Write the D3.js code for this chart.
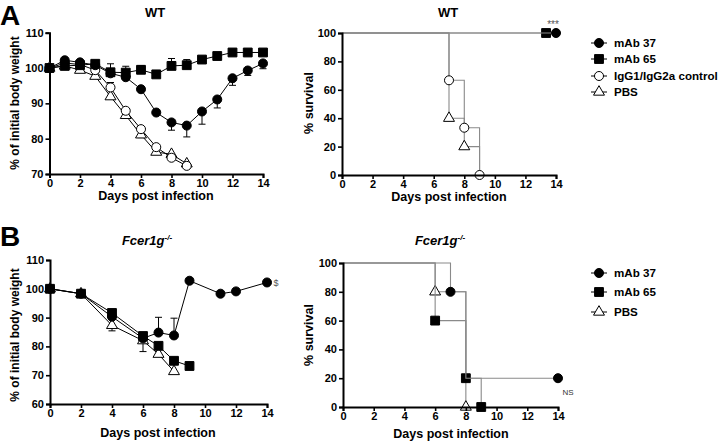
<!DOCTYPE html>
<html>
<head>
<meta charset="utf-8">
<script src="https://cdn.jsdelivr.net/npm/d3@7"></script>
<style>
  body { margin: 0; background: #fff; }
  svg { display: block; font-family: "Liberation Sans", Arial, sans-serif; }
</style>
</head>
<body>
<svg id="chart" width="720" height="442"></svg>
<script>
// ---------------- DATA ----------------
const daysWT = [0,1,2,3,4,5,6,7,8,9,10,11,12,13,14];
const wtMab37 = [100,102.2,101.6,100.8,98.5,97.4,94,87.4,84.6,83.7,87.7,91.1,97.1,99.3,101.3];
const wtMab37Err = [0,0,0,0,0,0,0,0,-2.2,-3.2,-3.6,-2.4,-2.0,-1.4,-1.5];
const wtMab65 = [100,100.6,100.8,101.2,98.8,98.7,99.5,98.2,100.6,100.8,102.4,103.4,104.4,104.4,104.4];
const wtMab65Err = [0,0,0,0,2.4,1.8,1.2,0,2.1,1.6,0,0,0,0,0];
const daysWT9 = [0,1,2,3,4,5,6,7,8,9];
const wtIgG = [100,101.4,101,99.4,94.5,87.9,82.7,77.6,74.6,72.3];
const wtIgGErr = [0,0,0,0,1.4,0,0,0,0,0];
const wtPBS = [100,100.6,99.4,97.7,91.9,86.6,81.1,76.2,75.6,72.9];
const wtPBSErr = [0,0,0,0,0,-0.8,-0.8,-0.6,0,0];

const daysKO37 = [0,2,4,6,7,8,9,11,12,14];
const koMab37 = [100,98.3,90.3,82.8,84.8,83.8,102.8,98.3,99.1,102.2];
const koMab37Err = [0,0,0,0,5.3,6.0,0,0,0,0];
const daysKO65 = [0,2,4,6,7,8,9];
const koMab65 = [100,98.3,91.6,83.6,80.2,75,73.2];
const daysKOPBS = [0,2,4,6,7,8];
const koPBS = [100,98.3,87.3,82,77.3,71.3];
const koPBSErr = [0,0,-1.9,-3.8,-0.8,0];

// Kaplan-Meier step points [day, % survival]
const survWT37 = [[0,100],[14,100]];
const survWT37Marks = [[14,100]];
const survWT65 = [[0,100],[13.35,100]];
const survWT65Marks = [[13.35,100]];
const survWTIgG = [[0,100],[7,66.7],[8,33.3],[9,0]];
const survWTIgGMarks = [[7,66.7],[8,33.3],[9,0]];
const survWTPBS = [[0,100],[7,40],[8,20],[9,0]];
const survWTPBSMarks = [[7,40],[8,20]];

const survKO37 = [[0,100],[7,80],[8,20],[14,20]];
const survKO37Marks = [[7,80],[14,20]];
const survKO65 = [[0,100],[6,60],[8,20],[9,0]];
const survKO65Marks = [[6,60],[8,20],[9,0]];
const survKOPBS = [[0,100],[6,80],[8,0]];
const survKOPBSMarks = [[6,80],[8,0]];

const xTicks = [0,2,4,6,8,10,12,14];
const wtWeightTicks = [70,80,90,100,110];
const koWeightTicks = [60,70,80,90,100,110];
const survTicks = [0,20,40,60,80,100];
const legendA = ["mAb 37","mAb 65","IgG1/IgG2a control","PBS"];
const legendB = ["mAb 37","mAb 65","PBS"];

// ---------------- DRAW ----------------
const svg = d3.select("#chart");
const FONT = "'Liberation Sans', Arial, sans-serif";

const styles = {
  mab37: {shape: d3.symbolCircle, size: 64, fill: "#000"},
  mab65: {shape: d3.symbolSquare, size: 78, fill: "#000"},
  igg:   {shape: d3.symbolCircle, size: 64, fill: "#fff"},
  pbs:   {shape: d3.symbolTriangle, size: 52, fill: "#fff"}
};

function axes(x, y, xt, yt, x0, y0) {
  const gx = svg.append("g").attr("transform", `translate(0,${y0})`)
    .call(d3.axisBottom(x).tickValues(xt).tickSize(4).tickPadding(1.5));
  const gy = svg.append("g").attr("transform", `translate(${x0},0)`)
    .call(d3.axisLeft(y).tickValues(yt).tickSize(4).tickPadding(2));
  [gx, gy].forEach(g => {
    g.select(".domain").attr("stroke", "#000").attr("stroke-width", 2);
    g.selectAll(".tick line").attr("stroke", "#000").attr("stroke-width", 1.6);
    g.selectAll(".tick text").attr("fill", "#000").style("font-family", FONT)
      .style("font-size", "11px").style("font-weight", "bold");
  });
}

function marker(g, st, px, py) {
  g.append("path").attr("d", d3.symbol().type(st.shape).size(st.size)())
    .attr("transform", `translate(${px},${py})`)
    .attr("fill", st.fill).attr("stroke", "#000").attr("stroke-width", 1);
}

function weightSeries(x, y, days, vals, errs, st) {
  const g = svg.append("g");
  const line = d3.line().x((d,i) => x(days[i])).y(d => y(d));
  g.append("path").datum(vals).attr("d", line).attr("fill", "none")
    .attr("stroke", "#000").attr("stroke-width", 1);
  if (errs) {
    errs.forEach((e, i) => {
      if (!e) return;
      const px = x(days[i]), y1 = y(vals[i]), y2 = y(vals[i] + e);
      g.append("line").attr("x1", px).attr("x2", px).attr("y1", y1).attr("y2", y2)
        .attr("stroke", "#000").attr("stroke-width", 1);
      g.append("line").attr("x1", px - 3.5).attr("x2", px + 3.5).attr("y1", y2).attr("y2", y2)
        .attr("stroke", "#000").attr("stroke-width", 1);
    });
  }
  return {g, draw: () => vals.forEach((v, i) => marker(g, st, x(days[i]), y(v)))};
}

function survSeries(x, y, pts, marks, st) {
  const g = svg.append("g");
  const line = d3.line().curve(d3.curveStepAfter).x(d => x(d[0])).y(d => y(d[1]));
  g.append("path").datum(pts).attr("d", line).attr("fill", "none")
    .attr("stroke", "#8a8a8a").attr("stroke-width", 1.1);
  return () => marks.forEach(m => marker(g, st, x(m[0]), y(m[1])));
}

function text(x, y, s, opts = {}) {
  const t = svg.append("text").attr("x", x).attr("y", y).text(s)
    .style("font-family", FONT)
    .style("font-size", (opts.size || 12) + "px")
    .style("font-weight", opts.weight || "bold")
    .attr("text-anchor", opts.anchor || "middle")
    .attr("fill", opts.fill || "#000");
  if (opts.rotate) t.attr("transform", `rotate(-90,${x},${y})`);
  if (opts.italic) t.style("font-style", "italic");
  return t;
}

function legend(items, stylesArr, x0, ys) {
  items.forEach((name, i) => {
    const y = ys[i];
    svg.append("line").attr("x1", x0 - 8).attr("x2", x0 + 8).attr("y1", y).attr("y2", y)
      .attr("stroke", "#000").attr("stroke-width", 1);
    marker(svg, stylesArr[i], x0, y);
    text(x0 + 15, y + 4.3, name, {anchor: "start", size: 11.6});
  });
}

// ---------- Panel A left ----------
{
  const x = d3.scaleLinear().domain([0,14]).range([49.5, 263]);
  const y = d3.scaleLinear().domain([70,110]).range([174, 32.7]);
  axes(x, y, xTicks, wtWeightTicks, 49.5, 174);
  const s4 = weightSeries(x, y, daysWT9, wtPBS, wtPBSErr, styles.pbs);
  const s3 = weightSeries(x, y, daysWT9, wtIgG, wtIgGErr, styles.igg);
  const s1 = weightSeries(x, y, daysWT, wtMab37, wtMab37Err, styles.mab37);
  const s2 = weightSeries(x, y, daysWT, wtMab65, wtMab65Err, styles.mab65);
  s4.draw(); s3.draw(); s1.draw(); s2.draw();
  text(156, 200, "Days post infection", {size: 12.5});
  text(19, 103, "% of initial body weight", {size: 12, rotate: true});
  text(155, 17, "WT", {size: 13});
  text(0, 25, "A", {size: 28, anchor: "start"});
}

// ---------- Panel A right ----------
{
  const x = d3.scaleLinear().domain([0,14]).range([342, 556]);
  const y = d3.scaleLinear().domain([0,100]).range([175, 33]);
  const d4 = survSeries(x, y, survWTPBS, survWTPBSMarks, styles.pbs);
  const d3_ = survSeries(x, y, survWTIgG, survWTIgGMarks, styles.igg);
  const d2 = survSeries(x, y, survWT65, survWT65Marks, styles.mab65);
  const d1 = survSeries(x, y, survWT37, survWT37Marks, styles.mab37);
  axes(x, y, xTicks, survTicks, 342, 175);
  d4(); d3_(); d2(); d1();
  text(449, 201, "Days post infection", {size: 12.5});
  text(313, 103, "% survival", {size: 12.5, rotate: true});
  text(448, 17, "WT", {size: 13});
  text(553, 28, "***", {size: 10, weight: "normal", fill: "#555"});
  legend(legendA, [styles.mab37, styles.mab65, styles.igg, styles.pbs], 599, [43, 59, 76, 92]);
}

// ---------- Panel B left ----------
{
  const x = d3.scaleLinear().domain([0,14]).range([50, 267]);
  const y = d3.scaleLinear().domain([60,110]).range([404, 260]);
  axes(x, y, xTicks, koWeightTicks, 50, 404);
  const s3 = weightSeries(x, y, daysKOPBS, koPBS, koPBSErr, styles.pbs);
  const s1 = weightSeries(x, y, daysKO37, koMab37, koMab37Err, styles.mab37);
  const s2 = weightSeries(x, y, daysKO65, koMab65, null, styles.mab65);
  s3.draw(); s1.draw(); s2.draw();
  text(158, 437, "Days post infection", {size: 12.5});
  text(19, 335, "% of initial body weight", {size: 12, rotate: true});
  const t = text(147, 245, "Fcer1g", {size: 13, italic: true});
  t.append("tspan").attr("dy", -5).style("font-size", "8px").text("-/-");
  text(276, 286, "$", {size: 9, weight: "normal", fill: "#555"});
  text(0, 246, "B", {size: 28, anchor: "start"});
}

// ---------- Panel B right ----------
{
  const x = d3.scaleLinear().domain([0,14]).range([343, 558]);
  const y = d3.scaleLinear().domain([0,100]).range([407, 263]);
  const d3b = survSeries(x, y, survKOPBS, survKOPBSMarks, styles.pbs);
  const d2 = survSeries(x, y, survKO65, survKO65Marks, styles.mab65);
  const d1 = survSeries(x, y, survKO37, survKO37Marks, styles.mab37);
  axes(x, y, xTicks, survTicks, 343, 407);
  d3b(); d2(); d1();
  text(451, 438, "Days post infection", {size: 12.5});
  text(313, 335, "% survival", {size: 12.5, rotate: true});
  const t = text(440, 245, "Fcer1g", {size: 13, italic: true});
  t.append("tspan").attr("dy", -5).style("font-size", "8px").text("-/-");
  text(568, 395, "NS", {size: 8, weight: "normal", fill: "#333"});
  legend(legendB, [styles.mab37, styles.mab65, styles.pbs], 599, [273, 292, 312]);
}
</script>
</body>
</html>
